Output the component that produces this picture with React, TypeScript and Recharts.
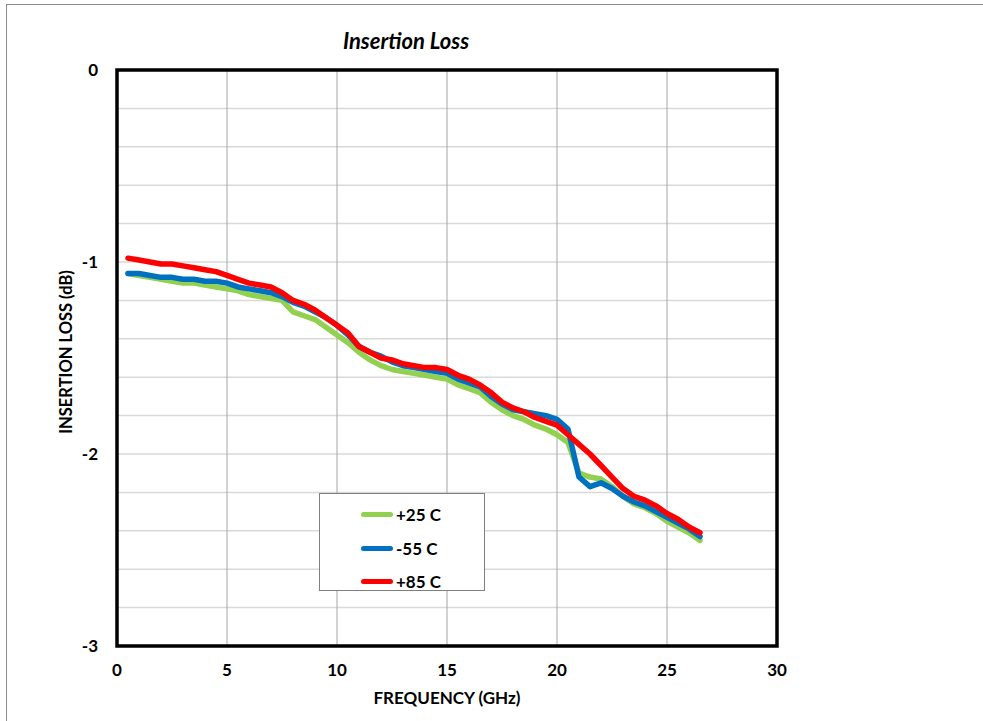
import { LineChart, Line, XAxis, YAxis, CartesianGrid, Legend, ReferenceArea } from "recharts";

// frequency points (GHz)
const freq = [
  0.5, 1, 1.5, 2, 2.5, 3, 3.5, 4, 4.5, 5, 5.5, 6, 6.5, 7, 7.5, 8, 8.5, 9, 9.5, 10,
  10.5, 11, 11.5, 12, 12.5, 13, 13.5, 14, 14.5, 15, 15.5, 16, 16.5, 17, 17.5, 18,
  18.5, 19, 19.5, 20, 20.5, 21, 21.5, 22, 22.5, 23, 23.5, 24, 24.5, 25, 25.5, 26, 26.5,
];

// insertion loss in dB
const plus25 = [
  -1.06, -1.07, -1.08, -1.09, -1.1, -1.11, -1.11, -1.12, -1.13, -1.14, -1.15, -1.17,
  -1.18, -1.19, -1.2, -1.26, -1.28, -1.3, -1.34, -1.38, -1.42, -1.47, -1.51, -1.54,
  -1.56, -1.57, -1.58, -1.59, -1.6, -1.61, -1.64, -1.66, -1.68, -1.73, -1.77, -1.8,
  -1.82, -1.85, -1.87, -1.9, -1.94, -2.1, -2.12, -2.13, -2.17, -2.22, -2.26, -2.28,
  -2.31, -2.35, -2.38, -2.41, -2.45,
];
const minus55 = [
  -1.06, -1.06, -1.07, -1.08, -1.08, -1.09, -1.09, -1.1, -1.1, -1.11, -1.13, -1.14,
  -1.15, -1.16, -1.18, -1.21, -1.23, -1.26, -1.29, -1.33, -1.38, -1.44, -1.47, -1.49,
  -1.52, -1.54, -1.55, -1.56, -1.57, -1.58, -1.61, -1.63, -1.65, -1.7, -1.74, -1.77,
  -1.78, -1.79, -1.8, -1.82, -1.87, -2.12, -2.17, -2.15, -2.18, -2.22, -2.25, -2.27,
  -2.3, -2.33, -2.36, -2.39, -2.43,
];
const plus85 = [
  -0.98, -0.99, -1.0, -1.01, -1.01, -1.02, -1.03, -1.04, -1.05, -1.07, -1.09, -1.11,
  -1.12, -1.13, -1.16, -1.2, -1.22, -1.25, -1.29, -1.33, -1.37, -1.44, -1.47, -1.5,
  -1.51, -1.53, -1.54, -1.55, -1.55, -1.56, -1.59, -1.61, -1.64, -1.68, -1.73, -1.76,
  -1.78, -1.81, -1.83, -1.85, -1.9, -1.95, -2.0, -2.06, -2.12, -2.18, -2.22, -2.24,
  -2.27, -2.31, -2.34, -2.38, -2.41,
];

const xTicks = [0, 5, 10, 15, 20, 25, 30];
const yTicks = [
  0, -0.2, -0.4, -0.6, -0.8, -1, -1.2, -1.4, -1.6, -1.8, -2, -2.2, -2.4, -2.6, -2.8, -3,
];

const series = [
  { key: "p25", name: "+25 C", color: "#92D050", values: plus25 },
  { key: "m55", name: "-55 C", color: "#0070C0", values: minus55 },
  { key: "p85", name: "+85 C", color: "#FF0000", values: plus85 },
];

const data = freq.map((f, i) => {
  const row: Record<string, number> = { f };
  series.forEach((s) => {
    row[s.key] = s.values[i];
  });
  return row;
});

const FONT = "Lato, 'Open Sans', sans-serif";

// legend keeps the series order (recharts sorts its payload by name)
const renderLegend = () => (
  <div
    style={{
      width: 166,
      height: 98,
      border: "1px solid #7f7f7f",
      background: "#fff",
      boxSizing: "border-box",
      paddingTop: 4,
    }}
  >
    {series.map((s) => (
      <div
        key={s.key}
        style={{ display: "flex", alignItems: "center", height: 33.5, paddingLeft: 41 }}
      >
        <span
          style={{
            display: "inline-block",
            width: 32,
            height: 5,
            borderRadius: 3,
            background: s.color,
            marginRight: 3,
          }}
        />
        <span style={{ fontFamily: FONT, fontWeight: 700, fontSize: 17, color: "#000" }}>
          {s.name}
        </span>
      </div>
    ))}
  </div>
);

export default function App() {
  return (
    <div
      style={{
        position: "absolute",
        left: 0,
        top: 0,
        width: 983,
        height: 721,
        overflow: "hidden",
        background: "#fff",
        fontFamily: FONT,
      }}
    >
      <div
        style={{
          position: "absolute",
          left: 6,
          top: 4,
          width: 1100,
          height: 900,
          border: "1.5px solid #8c8c8c",
        }}
      />
      <div
        style={{
          position: "absolute",
          left: 286,
          top: 27,
          width: 240,
          textAlign: "center",
          fontSize: 22,
          fontWeight: 700,
          fontStyle: "italic",
          color: "#000",
        }}
      >
        Insertion Loss
      </div>
      <LineChart
        width={983}
        height={721}
        data={data}
        margin={{ top: 70, right: 206, bottom: 45, left: 57 }}
      >
        <CartesianGrid vertical={false} stroke="#d9d9d9" strokeWidth={1.5} />
        <CartesianGrid horizontal={false} stroke="#a6a6a6" strokeWidth={1} />
        <XAxis
          dataKey="f"
          type="number"
          domain={[0, 30]}
          ticks={xTicks}
          height={30}
          tickLine={false}
          axisLine={false}
          tickSize={0}
          tickMargin={18}
          tick={{ fill: "#000", fontSize: 17, fontWeight: 700, fontFamily: FONT }}
          label={{
            value: "FREQUENCY (GHz)",
            position: "bottom",
            offset: 16,
            fill: "#000",
            fontSize: 17,
            fontWeight: 700,
            fontFamily: FONT,
          }}
        />
        <YAxis
          type="number"
          domain={[-3, 0]}
          ticks={yTicks}
          width={60}
          interval={0}
          tickLine={false}
          axisLine={false}
          tickSize={0}
          tickMargin={19}
          tickFormatter={(v: number) => (Number.isInteger(v) ? String(v === 0 ? 0 : v) : "")}
          tick={{ fill: "#000", fontSize: 17, fontWeight: 700, fontFamily: FONT }}
          label={{
            value: "INSERTION LOSS (dB)",
            angle: -90,
            position: "insideLeft",
            dx: 4,
            dy: -6,
            textAnchor: "middle",
            fill: "#000",
            fontSize: 16.5,
            fontWeight: 700,
            fontFamily: FONT,
          }}
        />
        {series.map((s) => (
          <Line
            key={s.key}
            dataKey={s.key}
            name={s.name}
            stroke={s.color}
            strokeWidth={5.5}
            dot={false}
            type="linear"
            strokeLinejoin="round"
            strokeLinecap="round"
            isAnimationActive={false}
          />
        ))}
        <ReferenceArea
          x1={0}
          x2={30}
          y1={-3}
          y2={0}
          fill="none"
          fillOpacity={0}
          stroke="#000"
          strokeWidth={3.5}
          ifOverflow="visible"
        />
        <Legend
          layout="horizontal"
          verticalAlign="middle"
          align="center"
          content={renderLegend}
          wrapperStyle={{ position: "absolute", left: 319, top: 493, width: 166, height: 98 }}
        />
      </LineChart>
    </div>
  );
}
